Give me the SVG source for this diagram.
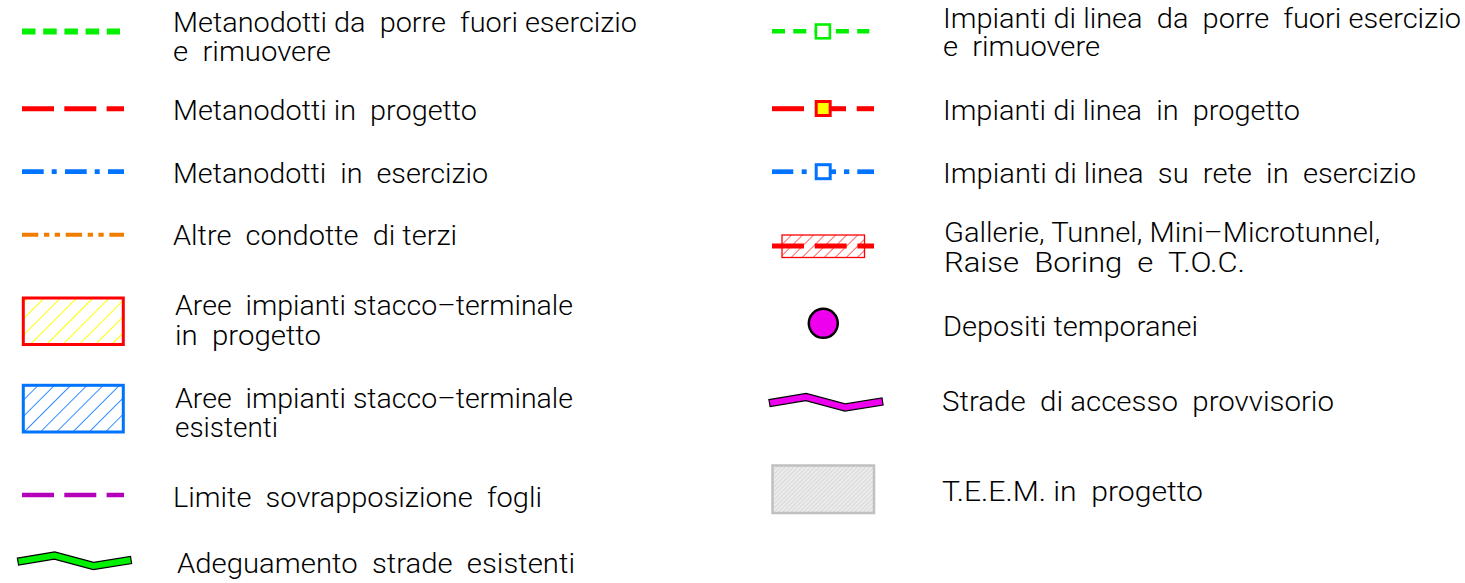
<svg xmlns="http://www.w3.org/2000/svg" width="1465" height="583" viewBox="0 0 1465 583">
<style>
.t{font-family:Roboto,"Liberation Sans",Arial,sans-serif;font-weight:300;font-size:28px;fill:#000;white-space:pre}
.grn{stroke:#00f000;fill:none}
.red{stroke:#ff0000;fill:none}
.blu{stroke:#0073ff;fill:none}
.org{stroke:#f07d00;fill:none}
.mag{stroke:#b400b8;fill:none}
</style>
<defs>
<pattern id="hatchY" width="11.5" height="11.5" patternUnits="userSpaceOnUse" patternTransform="rotate(45)">
<line x1="0" y1="0" x2="0" y2="11.5" stroke="#ffff00" stroke-width="2"/>
</pattern>
<pattern id="hatchB" width="11.5" height="11.5" patternUnits="userSpaceOnUse" patternTransform="rotate(45)">
<line x1="0" y1="0" x2="0" y2="11.5" stroke="#0073ff" stroke-width="1.6"/>
</pattern>
<pattern id="hatchR" width="7.8" height="7.8" patternUnits="userSpaceOnUse" patternTransform="rotate(45)">
<line x1="0" y1="0" x2="0" y2="7.8" stroke="#ff0000" stroke-width="1.2"/>
</pattern>
<pattern id="hatchG" width="3" height="3" patternUnits="userSpaceOnUse" patternTransform="rotate(45)">
<rect width="3" height="3" fill="#ececec"/>
<line x1="0" y1="0" x2="0" y2="3" stroke="#c4c4c4" stroke-width="1"/>
</pattern>
<polygon id="road" points="17.4,558.1 54.7,551.9 93.7,562.4 130.5,556.5 131.6,563.5 93.3,569.6 54.3,559.1 18.6,565" stroke="#000" stroke-width="1.2" stroke-linejoin="miter"/>
</defs>
<rect width="1465" height="583" fill="#fff"/>

<g id="leg-fuori-esercizio">
<line class="grn" x1="22" y1="31.5" x2="120" y2="31.5" stroke-width="6" stroke-dasharray="13.5,7.7"/>
<text class="t" x="173" y="32" textLength="464" lengthAdjust="spacingAndGlyphs">Metanodotti da  porre  fuori esercizio</text>
<text class="t" x="173" y="61" textLength="158" lengthAdjust="spacingAndGlyphs">e  rimuovere</text>
</g>

<g id="leg-progetto">
<line class="red" x1="22" y1="108.7" x2="124" y2="108.7" stroke-width="5" stroke-dasharray="32,10.3"/>
<text class="t" x="173" y="120" textLength="304" lengthAdjust="spacingAndGlyphs">Metanodotti in  progetto</text>
</g>

<g id="leg-esercizio">
<line class="blu" x1="22" y1="171.7" x2="124" y2="171.7" stroke-width="4.7" stroke-dasharray="21.7,8,5,8.3"/>
<text class="t" x="173" y="183" textLength="315" lengthAdjust="spacingAndGlyphs">Metanodotti  in  esercizio</text>
</g>

<g id="leg-terzi">
<line class="org" x1="22" y1="234.7" x2="124" y2="234.7" stroke-width="4" stroke-dasharray="16.3,5.7,5.3,5.4,5.3,5.7"/>
<text class="t" x="173" y="245" textLength="284" lengthAdjust="spacingAndGlyphs">Altre  condotte  di terzi</text>
</g>

<g id="leg-aree-progetto">
<rect x="23.3" y="298" width="100" height="46.5" fill="url(#hatchY)" stroke="#ff0000" stroke-width="3"/>
<text class="t" x="175" y="315" textLength="398" lengthAdjust="spacingAndGlyphs">Aree  impianti stacco–terminale</text>
<text class="t" x="175" y="345" textLength="146" lengthAdjust="spacingAndGlyphs">in  progetto</text>
</g>

<g id="leg-aree-esistenti">
<rect x="23.3" y="385.3" width="100" height="46.7" fill="url(#hatchB)" stroke="#0073ff" stroke-width="3"/>
<text class="t" x="175" y="408" textLength="398" lengthAdjust="spacingAndGlyphs">Aree  impianti stacco–terminale</text>
<text class="t" x="175" y="437" textLength="103" lengthAdjust="spacingAndGlyphs">esistenti</text>
</g>

<g id="leg-limite">
<line class="mag" x1="22" y1="495" x2="124" y2="495" stroke-width="4.5" stroke-dasharray="32,10.3"/>
<text class="t" x="173" y="507" textLength="369" lengthAdjust="spacingAndGlyphs">Limite  sovrapposizione  fogli</text>
</g>

<g id="leg-adeguamento">
<use href="#road" fill="#00f000"/>
<text class="t" x="177" y="573" textLength="398" lengthAdjust="spacingAndGlyphs">Adeguamento  strade  esistenti</text>
</g>

<g id="leg-impianti-fuori">
<line class="grn" x1="772" y1="31.3" x2="869.3" y2="31.3" stroke-width="4.5" stroke-dasharray="13,8.3"/>
<rect x="815.9" y="24.5" width="14" height="13.8" fill="#fff" stroke="#00f000" stroke-width="2.6"/>
<text class="t" x="943" y="28" textLength="518" lengthAdjust="spacingAndGlyphs">Impianti di linea  da  porre  fuori esercizio</text>
<text class="t" x="943" y="56" textLength="157" lengthAdjust="spacingAndGlyphs">e  rimuovere</text>
</g>

<g id="leg-impianti-progetto">
<line class="red" x1="772" y1="108.7" x2="804" y2="108.7" stroke-width="5"/>
<line class="red" x1="831" y1="108.7" x2="846" y2="108.7" stroke-width="5"/>
<line class="red" x1="856.7" y1="108.7" x2="874" y2="108.7" stroke-width="5"/>
<rect x="816.2" y="101.5" width="14" height="14" fill="#ffff00" stroke="#ff0000" stroke-width="3"/>
<text class="t" x="943" y="120" textLength="357" lengthAdjust="spacingAndGlyphs">Impianti di linea  in  progetto</text>
</g>

<g id="leg-impianti-esercizio">
<line class="blu" x1="772" y1="171.7" x2="793.3" y2="171.7" stroke-width="4.7"/>
<line class="blu" x1="801.7" y1="171.7" x2="806.7" y2="171.7" stroke-width="4.7"/>
<line class="blu" x1="831" y1="171.7" x2="836" y2="171.7" stroke-width="4.7"/>
<line class="blu" x1="844" y1="171.7" x2="849.3" y2="171.7" stroke-width="4.7"/>
<line class="blu" x1="857.3" y1="171.7" x2="874" y2="171.7" stroke-width="4.7"/>
<rect x="816.2" y="164.7" width="14" height="14" fill="#fff" stroke="#0073ff" stroke-width="3"/>
<text class="t" x="943" y="183" textLength="473" lengthAdjust="spacingAndGlyphs">Impianti di linea  su  rete  in  esercizio</text>
</g>

<g id="leg-gallerie">
<rect x="782" y="235" width="82.5" height="22.5" fill="url(#hatchR)" stroke="#ff0000" stroke-width="1.3"/>
<line class="red" x1="772" y1="246" x2="874" y2="246" stroke-width="5" stroke-dasharray="32,10.7"/>
<text class="t" x="944" y="242" textLength="436" lengthAdjust="spacingAndGlyphs">Gallerie, Tunnel, Mini–Microtunnel,</text>
<text class="t" x="944" y="272" textLength="301" lengthAdjust="spacingAndGlyphs">Raise  Boring  e  T.O.C.</text>
</g>

<g id="leg-depositi">
<circle cx="823.3" cy="323.3" r="14.5" fill="#ee00ee" stroke="#000" stroke-width="2.5"/>
<text class="t" x="943" y="336" textLength="255" lengthAdjust="spacingAndGlyphs">Depositi temporanei</text>
</g>

<g id="leg-strade-accesso">
<use href="#road" fill="#ee00ee" transform="translate(751.5,-158.5)"/>
<text class="t" x="942" y="411" textLength="392" lengthAdjust="spacingAndGlyphs">Strade  di accesso  provvisorio</text>
</g>

<g id="leg-teem">
<rect x="772.5" y="465.5" width="101.5" height="47.5" fill="url(#hatchG)" stroke="#c0c0c0" stroke-width="2.5"/>
<text class="t" x="942" y="501" textLength="261" lengthAdjust="spacingAndGlyphs">T.E.E.M. in  progetto</text>
</g>

<g id="connectors"></g>
</svg>
